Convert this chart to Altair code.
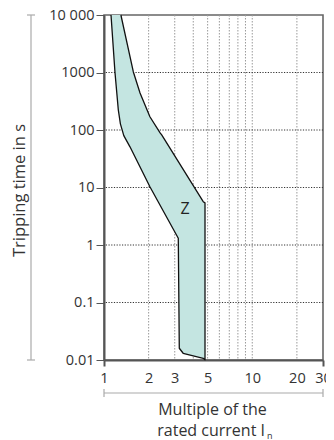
import altair as alt
import pandas as pd

# Band boundary (Z characteristic)
left_x = [1.115, 1.186, 1.249, 1.29, 1.36, 1.497, 2.04, 3.17, 3.22, 3.42, 4.67, 4.8]
left_y = [10000, 1000, 223, 128, 80, 51, 10.3, 1.31, 0.016, 0.0131, 0.0107, 0.0101]
right_x = [4.8, 4.8, 4.67, 2.45, 2.39, 2.04, 1.75, 1.576, 1.30]
right_y = [0.0101, 5.4, 5.66, 82, 89, 170, 440, 1033, 10000]

x_ticks = [1, 2, 3, 5, 10, 20, 30]
x_grid = [2, 3, 4, 5, 6, 7, 8, 9, 10, 20]
y_ticks = [0.01, 0.1, 1, 10, 100, 1000, 10000]
y_grid = [0.1, 1, 10, 100, 1000]

label_text = "Z"
label_x = 3.52
label_y = 4.2

FONT = "Open Sans"
TXT = "#333333"

px = left_x + right_x
py = left_y + right_y
band = pd.DataFrame({"x": px, "y": py, "i": list(range(len(px)))})

xscale = alt.Scale(type="log", domain=[1, 30], nice=False)
yscale = alt.Scale(type="log", domain=[0.01, 10000], nice=False)

xaxis = alt.Axis(
    values=x_ticks,
    title=None,
    grid=False,
    domainColor="#555555",
    domainWidth=2,
    tickSize=6,
    tickWidth=2,
    tickColor=alt.expr("datum.value == 1 || datum.value == 30 ? '#555555' : 'transparent'"),
    labelFont=FONT,
    labelFontSize=14.5,
    labelColor=TXT,
    labelPadding=5,
    labelFlush=False,
)
yaxis = alt.Axis(
    values=y_ticks,
    grid=False,
    domainColor="#555555",
    domainWidth=2,
    tickSize=8,
    tickColor="#555555",
    tickWidth=1,
    labelFont=FONT,
    labelFontSize=14.5,
    labelColor=TXT,
    labelPadding=2,
    labelFlush=False,
    labelExpr="datum.value == 10000 ? '10 000' : toString(datum.value)",
    title="Tripping time in s",
    titleFont=FONT,
    titleFontSize=16.5,
    titleFontWeight="normal",
    titleColor=TXT,
    titleX=-85,
    titleY=175,
    titleAngle=-90,
    titleAlign="center",
    titleBaseline="middle",
)

vgrid = alt.Chart(pd.DataFrame({"x": x_grid})).mark_rule(
    color="#9a9a9a", strokeWidth=1, strokeDash=[1.5, 1.5]
).encode(x=alt.X("x:Q", scale=xscale, axis=xaxis))

hgrid = alt.Chart(pd.DataFrame({"y": y_grid})).mark_rule(
    color="#333333", strokeWidth=1, strokeDash=[1.2, 1.5]
).encode(y=alt.Y("y:Q", scale=yscale, axis=yaxis))

poly = alt.Chart(band).mark_line(
    fill="#c4e5e1", stroke="#111111", strokeWidth=1.3, strokeJoin="round", interpolate="linear"
).encode(
    x=alt.X("x:Q", scale=xscale, axis=xaxis),
    y=alt.Y("y:Q", scale=yscale, axis=yaxis),
    order="i:Q",
)

zlabel = alt.Chart(pd.DataFrame({"x": [label_x], "y": [label_y], "t": [label_text]})).mark_text(
    font=FONT, fontSize=16, color="#222222"
).encode(
    x=alt.X("x:Q", scale=xscale, axis=xaxis),
    y=alt.Y("y:Q", scale=yscale, axis=yaxis),
    text="t:N",
)

BR = "#aaaaaa"
lbr = alt.Chart(pd.DataFrame({"a": [0]})).mark_rule(color=BR, strokeWidth=1.2).encode(
    x=alt.value(-73), y=alt.datum(0.01, scale=yscale, axis=yaxis), y2=alt.datum(10000)
)
lcap = alt.Chart(pd.DataFrame({"y": [0.01, 10000]})).mark_rule(color=BR, strokeWidth=1.2).encode(
    x=alt.value(-77), x2=alt.value(-69), y=alt.Y("y:Q", scale=yscale, axis=yaxis)
)
bbr = alt.Chart(pd.DataFrame({"a": [0]})).mark_rule(color=BR, strokeWidth=1.2).encode(
    y=alt.value(378), x=alt.datum(1, scale=xscale, axis=xaxis), x2=alt.datum(30)
)
bcap = alt.Chart(pd.DataFrame({"x": [1, 30]})).mark_rule(color=BR, strokeWidth=1.2).encode(
    y=alt.value(374), y2=alt.value(382), x=alt.X("x:Q", scale=xscale, axis=xaxis)
)

t1 = alt.Chart(pd.DataFrame({"t": ["Multiple of the"]})).mark_text(
    font=FONT, fontSize=16, color=TXT, align="center", baseline="middle"
).encode(x=alt.value(108.5), y=alt.value(395), text="t:N")
t2 = alt.Chart(pd.DataFrame({"t": ["rated current I"]})).mark_text(
    font=FONT, fontSize=16, color=TXT, align="right", baseline="middle"
).encode(x=alt.value(161), y=alt.value(416), text="t:N")
t3 = alt.Chart(pd.DataFrame({"t": ["n"]})).mark_text(
    font=FONT, fontSize=9, color=TXT, align="left", baseline="middle"
).encode(x=alt.value(163), y=alt.value(421), text="t:N")

chart = alt.layer(vgrid, hgrid, poly, zlabel, lbr, lcap, bbr, bcap, t1, t2, t3).properties(
    width=219,
    height=345,
    autosize=alt.AutoSizeParams(type="none"),
    padding={"left": 96, "top": 7, "right": 3, "bottom": 82},
).configure_view(stroke="#666666", strokeWidth=1.6)

chart.save("out.html", embed_options={"renderer": "svg", "actions": False})
